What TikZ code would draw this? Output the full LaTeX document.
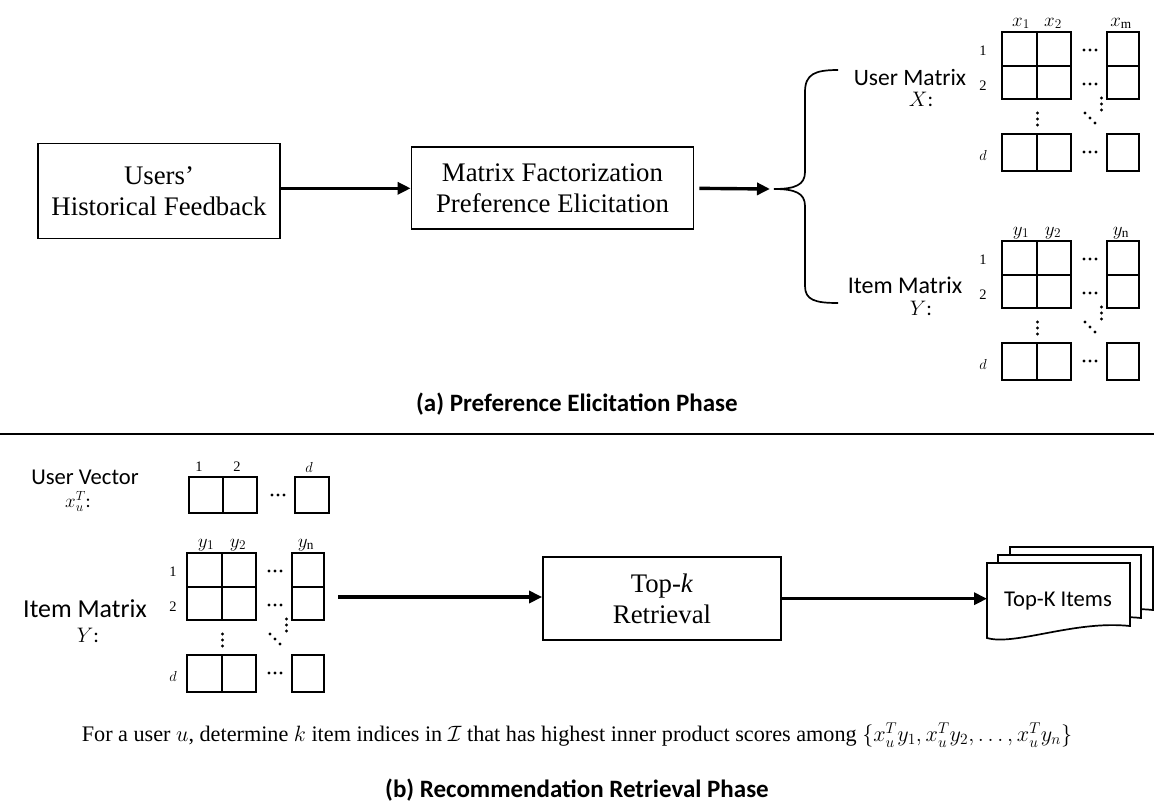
\RequirePackage{fix-cm}
\documentclass[tikz,border=0pt]{standalone}
\usepackage{fontspec}
\setmainfont{Liberation Serif}
\newfontfamily\calibri{Carlito}
\usetikzlibrary{arrows.meta}

\tikzset{
  box/.style={draw, line width=1.8pt, inner sep=0pt, align=center,
    font=\fontsize{26.8}{31.2}\selectfont},
  flow/.style={line width=3.4pt, -{Triangle[length=13pt,width=12pt]}},
  cell/.style={line width=1.7pt},
  brace/.style={line width=1.7pt},
  collbl/.style={anchor=base, inner sep=0pt, font=\fontsize{19}{19}\selectfont},
  rowlbl/.style={inner sep=0pt, font=\fontsize{14.5}{14.5}\selectfont},
  sanslbl/.style={anchor=base, inner sep=0pt, font=\calibri\fontsize{23.5}{23.5}\selectfont},
  mathlbl/.style={anchor=base, inner sep=0pt, font=\calibri\fontsize{21}{21}\selectfont},
  caption/.style={inner sep=0pt, font=\calibri\bfseries\fontsize{25}{25}\selectfont},
  docline/.style={line width=1.7pt, fill=white},
}

% three bold dots in a row, in a column, or on a diagonal
\newcommand{\hdotsat}[2]{\foreach \k in {-1,0,1}{\fill (#1+6*\k,#2) circle (1.6pt);}}
\newcommand{\vdotsat}[2]{\foreach \k in {-1,0,1}{\fill (#1,#2+6*\k) circle (1.6pt);}}
\newcommand{\ddotsat}[2]{\foreach \k in {-1,0,1}{\fill (#1+5*\k,#2+5*\k) circle (1.6pt);}}

% a d x n factor matrix: #1 name prefix, #2/#3 top-left corner,
% #4 column letter, #5 last column index, #6 x offset of the row indices
\newcommand{\factormat}[6]{%
  \begin{scope}[shift={(#2,#3)}]
    \draw[cell] (0,0) rectangle (69,67) (35,0) -- (35,67) (0,34) -- (69,34);
    \draw[cell] (105,0) rectangle (137,67) (105,34) -- (137,34);
    \draw[cell] (0,102) rectangle (69,139) (35,102) -- (35,139);
    \draw[cell] (105,102) rectangle (137,139);
    \node[collbl] (#1-c1) at (19,-6) {$#4_1$};
    \node[collbl] (#1-c2) at (51,-6) {$#4_2$};
    \node[collbl] (#1-cn) at (119,-6) {$#4_{\mathrm{#5}}$};
    \node[rowlbl] (#1-r1) at (#6,19) {1};
    \node[rowlbl] (#1-r2) at (#6,54) {2};
    \node[rowlbl] (#1-rd) at (#6,123) {$d$};
    \hdotsat{88}{18}
    \hdotsat{88}{52}
    \hdotsat{88}{120}
    \vdotsat{35.5}{87}
    \ddotsat{88}{86}
    \vdotsat{99.5}{72}
  \end{scope}}

% stacked result page with a wavy lower edge
\newcommand{\docpage}[2]{%
  \draw[docline, shift={(#1,#2)}] (987,563) -- (1130,563) -- (1130,626)
    .. controls (1075,620) and (1015,646) .. (987,638) -- cycle;}

\begin{document}
\begin{tikzpicture}[x=1pt,y=-1pt]
\useasboundingbox (0,0) rectangle (1154,807);
\fill[white] (0,0) rectangle (1154,807);

% ---------------- (a) preference elicitation ----------------
\node[box, minimum width=242pt, minimum height=95pt] (users) at (159,191)
  {Users’\\Historical Feedback};
\node[box, minimum width=282pt, minimum height=82pt] (mf) at (552.5,188.3)
  {Matrix Factorization\\Preference Elicitation};
\coordinate (bracetip) at (774,189);

\draw[flow] (users.east |- mf.west) -- (mf.west);
\draw[flow, shorten <=5pt] (mf.east) -- ([xshift=-4pt]bracetip);

\draw[brace] (838,70) .. controls (815,70) and (805,74) .. (805,92)
  -- (805,172) .. controls (805,185) and (795,189) .. (bracetip)
  .. controls (795,189) and (805,193) .. (805,206)
  -- (805,286) .. controls (805,300) and (815,303) .. (838,303);

\node[sanslbl] (ulab) at (910,85) {User Matrix};
\node[mathlbl] (ulabX) at (921,106) {$X$:};
\node[sanslbl, font=\calibri\fontsize{24}{24}\selectfont] (ilab) at (905,293) {Item Matrix};
\node[mathlbl] (ilabY) at (921,315) {$Y$:};

\factormat{X}{1002}{32}{x}{m}{-19}
\factormat{Yt}{1002}{241}{y}{n}{-19}

\node[caption] (capa) at (577,404) {(a) Preference Elicitation Phase};
\draw[line width=1.8pt] (0,434) -- (1154,434);

% ---------------- (b) recommendation retrieval ----------------
\node[sanslbl, font=\calibri\fontsize{22.6}{22.6}\selectfont] (vlab) at (85,484) {User Vector};
\node[mathlbl, font=\calibri\fontsize{19}{19}\selectfont] (vlabx) at (78,507) {$x_u^T$:};

\draw[cell] (189,477) rectangle (257,513) (223,477) -- (223,513);
\draw[cell] (295,477) rectangle (329,513);
\node[rowlbl] (v1) at (199,467) {1};
\node[rowlbl] (v2) at (237,467) {2};
\node[rowlbl] (vd) at (309,467) {$d$};
\hdotsat{278}{495}

\node[sanslbl, font=\calibri\fontsize{25.9}{25.9}\selectfont] (iblab) at (85,617) {Item Matrix};
\node[mathlbl] (iblabY) at (88,642) {$Y$:};
\factormat{Yb}{187}{553}{y}{n}{-14}

\coordinate (ymatout) at (338,597);
\node[box, minimum width=238pt, minimum height=83pt] (topk) at (662,598.7)
  {Top-\textit{k}\\Retrieval};
\draw[flow] (ymatout) -- (ymatout -| topk.west);

\docpage{23}{-16}
\docpage{11}{-8}
\docpage{0}{0}
\coordinate (docin) at (987,598.7);
\node[inner sep=0pt, font=\calibri\fontsize{22.6}{22.6}\selectfont] (items) at (1058,601) {Top-K Items};
\draw[flow] (topk.east) -- (docin);

\node[inner sep=0pt, font=\fontsize{22.2}{27}\selectfont] (note) at (577,735)
  {For a user $u$, determine $k$ item indices in $\mathcal{I}$ that has highest inner product scores among $\{x_u^T y_1, x_u^T y_2, \dots, x_u^T y_n\}$};

\node[caption] (capb) at (577,790) {(b) Recommendation Retrieval Phase};
\end{tikzpicture}
\end{document}
